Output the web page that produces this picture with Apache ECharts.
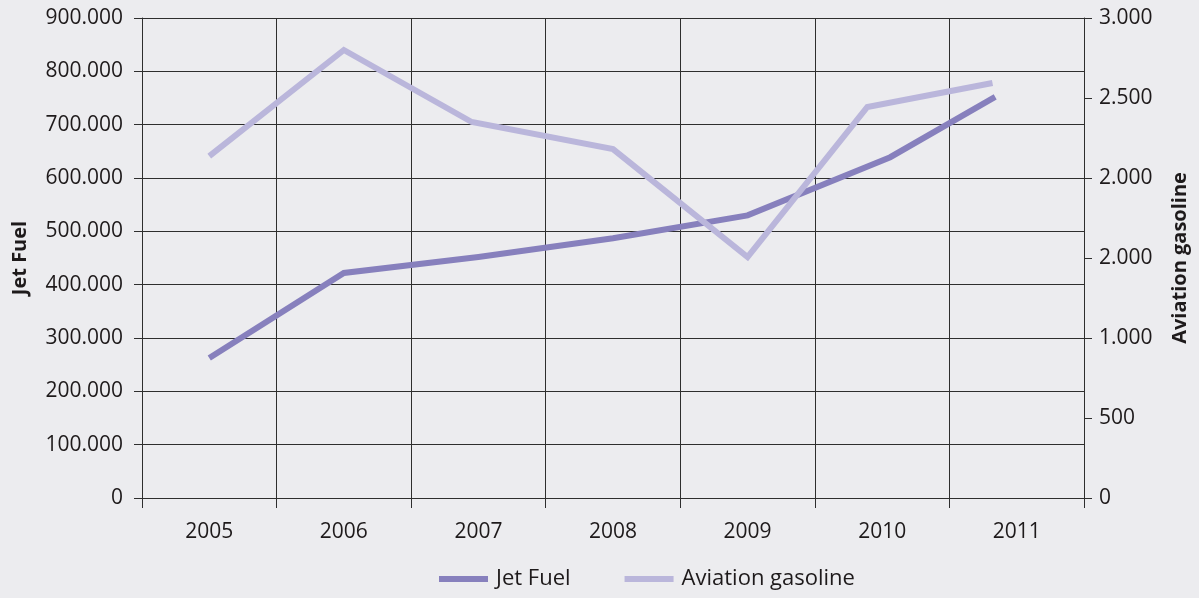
<!DOCTYPE html>
<html>
<head>
<meta charset="utf-8">
<script src="https://cdn.jsdelivr.net/npm/echarts@6/dist/echarts.min.js"></script>
<style>
html,body{margin:0;padding:0;background:#ECECEF;}
#chart{width:1199px;height:598px;}
</style>
</head>
<body>
<div id="chart"></div>
<script>
// Data
const years = ['2005', '2006', '2007', '2008', '2009', '2010', '2011'];
// Positions of the plotted points along the year scale (as drawn in the reference)
const jetFuelYears = [2005, 2006, 2007, 2008, 2009, 2010.06, 2010.84];
const jetFuel = [262500, 422000, 452000, 487000, 530000, 639000, 752000];
const aviationYears = [2005, 2006, 2006.95, 2008, 2009, 2009.89, 2010.82];
const aviationGasoline = [2137, 2800, 2350, 2181, 1506, 2444, 2594];
const leftTickLabels = ['0', '100.000', '200.000', '300.000', '400.000', '500.000', '600.000', '700.000', '800.000', '900.000'];
const rightTickLabels = ['0', '500', '1.000', '2.000', '2.000', '2.500', '3.000'];

const pair = (xs, ys) => xs.map((x, i) => [x, ys[i]]);
const txt = '#1E1A1B';
const font = 'Open Sans';

const chart = echarts.init(document.getElementById('chart'));
chart.setOption({
  backgroundColor: '#ECECEF',
  animation: false,
  textStyle: { fontFamily: font, color: txt },
  grid: { left: 142, right: 115, top: 18, bottom: 100 },
  legend: {
    bottom: 3,
    left: 434,
    icon: 'rect',
    itemWidth: 49,
    itemHeight: 6,
    itemGap: 54,
    textStyle: { fontFamily: font, fontSize: 22, color: txt, padding: [0, 0, 0, 3] },
    data: ['Jet Fuel', 'Aviation gasoline']
  },
  xAxis: [
    {
      type: 'category',
      data: years,
      boundaryGap: true,
      axisLine: { lineStyle: { color: '#2E2E2E', width: 1 } },
      axisTick: { show: true, length: 10, lineStyle: { color: '#2E2E2E' } },
      axisLabel: { fontFamily: font, fontSize: 21, color: txt, margin: 24 },
      splitLine: { show: true, lineStyle: { color: '#2E2E2E', width: 1 } }
    },
    {
      type: 'value',
      min: 2004.5,
      max: 2011.5,
      show: false
    }
  ],
  yAxis: [
    {
      type: 'value',
      min: 0,
      max: 900000,
      interval: 100000,
      name: 'Jet Fuel',
      nameLocation: 'middle',
      nameRotate: 90,
      nameGap: 112,
      nameTextStyle: { fontFamily: font, fontSize: 20, fontWeight: 'bold', color: txt },
      axisLine: { show: true, lineStyle: { color: '#2E2E2E' } },
      axisTick: { show: true, length: 8, lineStyle: { color: '#2E2E2E' } },
      axisLabel: { fontFamily: font, fontSize: 21, color: txt, margin: 19,
        formatter: (v, i) => leftTickLabels[i] },
      splitLine: { show: true, lineStyle: { color: '#2E2E2E', width: 1 } }
    },
    {
      type: 'value',
      min: 0,
      max: 3000,
      interval: 500,
      position: 'right',
      name: 'Aviation gasoline',
      nameLocation: 'middle',
      nameRotate: 90,
      nameGap: 86,
      nameTextStyle: { fontFamily: font, fontSize: 20, fontWeight: 'bold', color: txt },
      axisLine: { show: true, lineStyle: { color: '#2E2E2E' } },
      axisTick: { show: true, length: 8, lineStyle: { color: '#2E2E2E' } },
      axisLabel: { fontFamily: font, fontSize: 21, color: txt, margin: 15,
        formatter: (v, i) => rightTickLabels[i] },
      splitLine: { show: false }
    }
  ],
  series: [
    {
      name: 'Jet Fuel',
      type: 'line',
      xAxisIndex: 1,
      yAxisIndex: 0,
      data: pair(jetFuelYears, jetFuel),
      symbol: 'none',
      color: '#8780BD',
      lineStyle: { color: '#8780BD', width: 6, cap: 'butt', join: 'miter' }
    },
    {
      name: 'Aviation gasoline',
      type: 'line',
      xAxisIndex: 1,
      yAxisIndex: 1,
      data: pair(aviationYears, aviationGasoline),
      symbol: 'none',
      color: '#BAB6DB',
      lineStyle: { color: '#BAB6DB', width: 6, cap: 'butt', join: 'miter' }
    }
  ]
});
</script>
</body>
</html>
